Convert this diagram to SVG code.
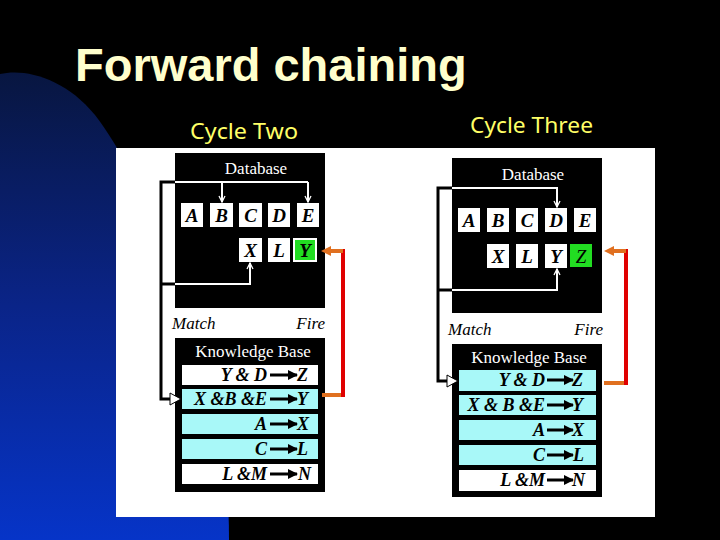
<svg xmlns="http://www.w3.org/2000/svg" width="720" height="540" viewBox="0 0 720 540">
<defs>
<linearGradient id="blue" x1="0" y1="0" x2="0" y2="1">
<stop offset="0" stop-color="#081640"/>
<stop offset="0.5" stop-color="#0a2488"/>
<stop offset="1" stop-color="#0634c8"/>
</linearGradient>
<marker id="wa" markerWidth="8" markerHeight="8" refX="7" refY="4" orient="auto" markerUnits="userSpaceOnUse">
<path d="M1,1 L7,4 L1,7" fill="none" stroke="#fff" stroke-width="1.3"/>
</marker>
<marker id="ka" markerWidth="10" markerHeight="10" refX="9" refY="5" orient="auto" markerUnits="userSpaceOnUse">
<path d="M0,0 L10,5 L0,10 Z" fill="#000"/>
</marker>
</defs>
<style>
.title{font-family:"Liberation Sans",Arial,sans-serif;font-weight:bold;font-size:47px;fill:#FFFFCC}
.cyc{font-family:"Noto Sans","DejaVu Sans",sans-serif;font-size:22px;fill:#FFFF66}
.hd{font-family:"Liberation Serif","Times New Roman",serif;font-size:17px;fill:#fff;text-anchor:middle}
.mf{font-family:"Liberation Serif","Times New Roman",serif;font-size:17px;font-style:italic;fill:#000}
.lt{font-family:"Liberation Serif","Times New Roman",serif;font-size:19px;font-style:italic;font-weight:bold;fill:#000;text-anchor:middle}
.rl{font-family:"Liberation Serif","Times New Roman",serif;font-size:18px;font-style:italic;font-weight:bold;fill:#000}
.box{fill:#fff}
.cy{fill:#A8F8F8}
.wl{fill:none;stroke:#fff;stroke-width:2}
.bl{fill:none;stroke:#000;stroke-width:3}
.ra{stroke:#000;stroke-width:3;marker-end:url(#ka)}
.or{fill:none;stroke:#E07020;stroke-width:4}
.rd{fill:none;stroke:#E00000;stroke-width:4}
.hol{fill:#fff;stroke:#000;stroke-width:1}
</style>
<rect width="720" height="540" fill="#000"/>
<path d="M0,74 C25,68 65,78 95,115 C130,160 170,250 200,340 C220,410 229,470 229,540 L0,540 Z" fill="url(#blue)"/>
<text class="title" x="75" y="81">Forward chaining</text>
<text class="cyc" x="190" y="139" textLength="108" lengthAdjust="spacingAndGlyphs">Cycle Two</text>
<text class="cyc" x="470" y="133" textLength="123" lengthAdjust="spacingAndGlyphs">Cycle Three</text>
<rect x="116" y="148" width="539" height="369" fill="#fff"/>

<g id="cycle2-database">
<rect x="175" y="153" width="150" height="155" fill="#000"/>
<text class="hd" x="256" y="174">Database</text>
<rect class="box" x="181" y="203" width="22" height="24"/><text class="lt" x="192" y="222">A</text>
<rect class="box" x="210" y="203" width="23" height="24"/><text class="lt" x="221.5" y="222">B</text>
<rect class="box" x="239" y="203" width="23" height="24"/><text class="lt" x="250.5" y="222">C</text>
<rect class="box" x="268" y="203" width="22" height="24"/><text class="lt" x="279" y="222">D</text>
<rect class="box" x="297" y="203" width="22" height="24"/><text class="lt" x="308" y="222">E</text>
<rect class="box" x="239" y="238" width="23" height="24"/><text class="lt" x="250.5" y="257">X</text>
<rect class="box" x="268" y="238" width="22" height="24"/><text class="lt" x="279" y="257">L</text>
<rect x="294" y="239" width="22" height="22" fill="#22DD22" stroke="#fff" stroke-width="2"/><text class="lt" x="305" y="257">Y</text>
</g>

<g id="cycle2-kb">
<rect x="175" y="338" width="150" height="154" fill="#000"/>
<text class="hd" x="253" y="357">Knowledge Base</text>
<rect class="box" x="182" y="365" width="136" height="20"/>
<rect class="cy" x="182" y="389" width="136" height="20"/>
<rect class="cy" x="182" y="414" width="136" height="20"/>
<rect class="cy" x="182" y="439" width="136" height="20"/>
<rect class="box" x="182" y="464" width="136" height="20"/>
<text class="rl" x="267" y="381" text-anchor="end">Y &amp; D</text>
<line class="ra" x1="270" y1="375" x2="297" y2="375"/><text class="rl" x="297" y="381">Z</text>
<text class="rl" x="267" y="405" text-anchor="end">X &amp;B &amp;E</text>
<line class="ra" x1="270" y1="399" x2="297" y2="399"/><text class="rl" x="297" y="405">Y</text>
<text class="rl" x="267" y="430" text-anchor="end">A</text>
<line class="ra" x1="270" y1="424" x2="297" y2="424"/><text class="rl" x="297" y="430">X</text>
<text class="rl" x="267" y="455" text-anchor="end">C</text>
<line class="ra" x1="270" y1="449" x2="297" y2="449"/><text class="rl" x="297" y="455">L</text>
<text class="rl" x="267" y="480" text-anchor="end">L &amp;M</text>
<line class="ra" x1="270" y1="474" x2="297" y2="474"/><text class="rl" x="298" y="480">N</text>
</g>
<text class="mf" x="172" y="329">Match</text>
<text class="mf" x="325" y="329" text-anchor="end">Fire</text>

<g id="cycle3-database">
<rect x="452" y="158" width="150" height="155" fill="#000"/>
<text class="hd" x="533" y="180">Database</text>
<rect class="box" x="458" y="208" width="22" height="24"/><text class="lt" x="469" y="227">A</text>
<rect class="box" x="487" y="208" width="22" height="24"/><text class="lt" x="498" y="227">B</text>
<rect class="box" x="516" y="208" width="22" height="24"/><text class="lt" x="527" y="227">C</text>
<rect class="box" x="545" y="208" width="22" height="24"/><text class="lt" x="556" y="227">D</text>
<rect class="box" x="574" y="208" width="22" height="24"/><text class="lt" x="585" y="227">E</text>
<rect class="box" x="487" y="244" width="22" height="24"/><text class="lt" x="498" y="263">X</text>
<rect class="box" x="516" y="244" width="22" height="24"/><text class="lt" x="527" y="263">L</text>
<rect class="box" x="545" y="244" width="22" height="24"/><text class="lt" x="556" y="263">Y</text>
<rect x="570" y="244" width="22" height="23" fill="#22DD22"/><text class="lt" x="581" y="263" style="font-weight:normal">Z</text>
</g>

<g id="cycle3-kb">
<rect x="452" y="344" width="150" height="153" fill="#000"/>
<text class="hd" x="529" y="363">Knowledge Base</text>
<rect class="cy" x="459" y="370" width="137" height="21"/>
<rect class="cy" x="459" y="395" width="137" height="20"/>
<rect class="cy" x="459" y="420" width="137" height="20"/>
<rect class="cy" x="459" y="445" width="137" height="20"/>
<rect class="box" x="459" y="470" width="137" height="21"/>
<text class="rl" x="545" y="386" text-anchor="end">Y &amp; D</text>
<line class="ra" x1="547" y1="380" x2="573" y2="380"/><text class="rl" x="572" y="386">Z</text>
<text class="rl" x="545" y="411" text-anchor="end">X &amp; B  &amp;E</text>
<line class="ra" x1="547" y1="405" x2="573" y2="405"/><text class="rl" x="572" y="411">Y</text>
<text class="rl" x="545" y="436" text-anchor="end">A</text>
<line class="ra" x1="547" y1="430" x2="573" y2="430"/><text class="rl" x="572" y="436">X</text>
<text class="rl" x="545" y="461" text-anchor="end">C</text>
<line class="ra" x1="547" y1="455" x2="573" y2="455"/><text class="rl" x="573" y="461">L</text>
<text class="rl" x="545" y="486" text-anchor="end">L &amp;M</text>
<line class="ra" x1="547" y1="480" x2="573" y2="480"/><text class="rl" x="572" y="486">N</text>
</g>
<text class="mf" x="448" y="335">Match</text>
<text class="mf" x="603" y="335" text-anchor="end">Fire</text>

<g id="connectors">
<path class="bl" d="M176,182 H161 V399 H171"/>
<path class="bl" d="M161,284 H176"/>
<path class="wl" d="M175,182 H308"/>
<path class="wl" d="M222,182 V202" marker-end="url(#wa)"/>
<path class="wl" d="M308,182 V202" marker-end="url(#wa)"/>
<path class="wl" d="M175,284 H250 V263" marker-end="url(#wa)"/>
<polygon class="hol" points="170,393 181,399 170,405"/>
<path class="or" d="M322,395 H343"/>
<path class="rd" d="M343,397 V249"/>
<path class="or" d="M343,251 H329"/>
<polygon points="321,251 331,246 331,256" fill="#E07020"/>
<path class="bl" d="M453,188 H438 V381 H448"/>
<path class="bl" d="M438,290 H453"/>
<path class="wl" d="M452,188 H557 V207" marker-end="url(#wa)"/>
<path class="wl" d="M452,290 H557 V269" marker-end="url(#wa)"/>
<polygon class="hol" points="447,375 458,381 447,387"/>
<path class="or" d="M604,383 H626"/>
<path class="rd" d="M626,385 V249"/>
<path class="or" d="M626,251 H612"/>
<polygon points="604,251 614,246 614,256" fill="#E07020"/>
</g>
</svg>
